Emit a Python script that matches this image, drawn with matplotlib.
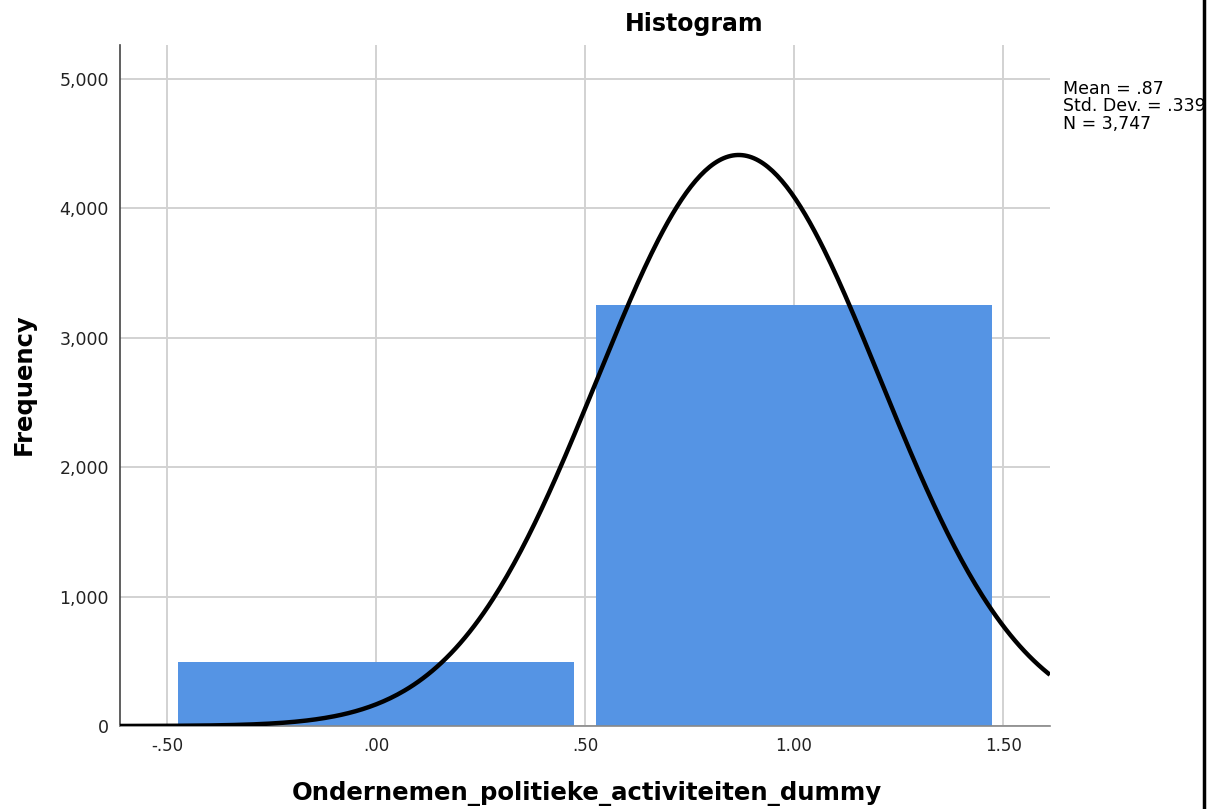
import numpy as np
import matplotlib.pyplot as plt
from matplotlib.lines import Line2D
from matplotlib.patches import Rectangle

categories = [0, 1]
counts = [496, 3251]
tick_values = [-0.5, 0.0, 0.5, 1.0, 1.5]
tick_labels = ["-.50", ".00", ".50", "1.00", "1.50"]
ytick_values = [0, 1000, 2000, 3000, 4000, 5000]
ytick_labels = ["0", "1,000", "2,000", "3,000", "4,000", "5,000"]
stat_mean = ".87"
stat_sd = ".339"
stat_n = "3,747"

plt.rcParams['font.family'] = ['DejaVu Sans']

fig = plt.figure(figsize=(12.12, 8.09), dpi=100)
ax = fig.add_axes([0.099, 0.1026, 0.7673, 0.8418])

x_min, x_max = -0.612, 1.612
ax.set_xlim(x_min, x_max)
ax.set_ylim(0, 5260)

# grid achter de balken
ax.set_axisbelow(True)
ax.grid(True, color="#d2d2d2", linewidth=1.4)

ax.bar(categories, counts, width=0.946, color="#5594e4", edgecolor="none", zorder=2)

# normale curve op basis van de gegevens
n = sum(counts)
mean = np.dot(categories, counts) / n
sd = np.sqrt(np.dot((np.array(categories) - mean) ** 2, counts) / (n - 1))
xs = np.linspace(x_min, x_max, 400)
ys = n * 1.0 * np.exp(-0.5 * ((xs - mean) / sd) ** 2) / (sd * np.sqrt(2 * np.pi))
ax.plot(xs, ys, color="black", linewidth=3.2, zorder=3, solid_capstyle="butt")

ax.set_xticks(tick_values)
ax.set_xticklabels(tick_labels, fontsize=12, color="#222222")
ax.set_yticks(ytick_values)
ax.set_yticklabels(ytick_labels, fontsize=12.5, color="#222222")
ax.tick_params(length=0, pad=8)

ax.spines['top'].set_visible(False)
ax.spines['right'].set_visible(False)
ax.spines['left'].set_color("#444444")
ax.spines['left'].set_linewidth(1.2)
ax.spines['bottom'].set_color("#888888")
ax.spines['bottom'].set_linewidth(1.2)

fig.text(587 / 1212, 1 - 793 / 809, "Ondernemen_politieke_activiteiten_dummy",
         fontsize=17.6, fontweight="bold", ha="center", va="center")
fig.text(24 / 1212, 1 - 384 / 809, "Frequency", fontsize=17.5, fontweight="bold",
         ha="center", va="center", rotation=90)

fig.text(694 / 1212, 1 - 24 / 809, "Histogram", fontsize=17, fontweight="bold",
         ha="center", va="center")

fig.text(1063 / 1212, 1 - 80 / 809,
         "Mean = " + stat_mean + "\nStd. Dev. = " + stat_sd + "\nN = " + stat_n,
         fontsize=12.5, ha="left", va="top", linespacing=0.95)

# rand van het venster rechts
fig.add_artist(Rectangle((1205 / 1212, 0), 7 / 1212, 1, transform=fig.transFigure,
                         facecolor="white", edgecolor="none", zorder=9))
fig.add_artist(Line2D([1204 / 1212, 1204 / 1212], [0, 1], transform=fig.transFigure,
                      color="black", linewidth=2.5, zorder=10))

fig.savefig("out.png", dpi=100)
